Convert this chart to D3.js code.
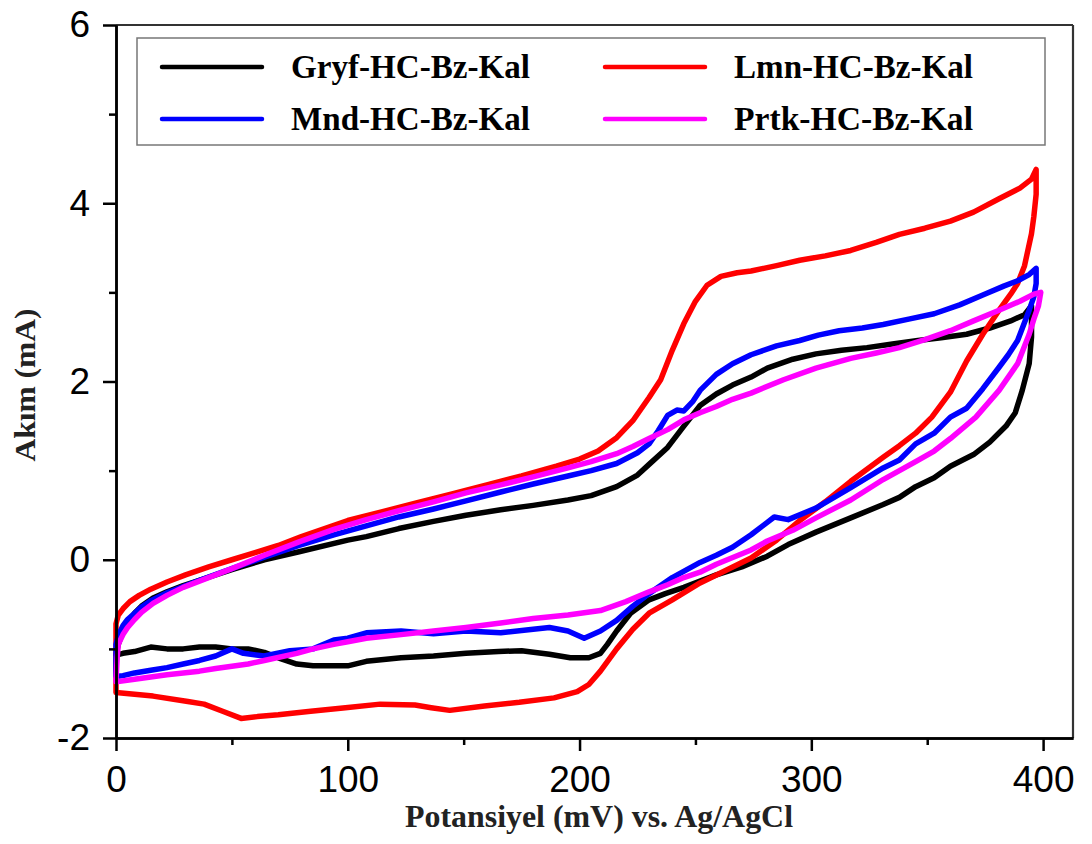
<!DOCTYPE html>
<html>
<head>
<meta charset="utf-8">
<script src="https://cdn.jsdelivr.net/npm/d3@7"></script>
<style>
  html, body { margin: 0; padding: 0; background: #fff; }
  svg { display: block; }
</style>
</head>
<body>
<svg id="chart" width="1092" height="844"></svg>
<script>
// ---------------- DATA ----------------
const seriesNames = ["Gryf-HC-Bz-Kal", "Lmn-HC-Bz-Kal", "Mnd-HC-Bz-Kal", "Prtk-HC-Bz-Kal"];
const seriesColors = ["#000000", "#ff0000", "#0000ff", "#ff00ff"];

const xTickValues = [0, 100, 200, 300, 400];
const xMinorTicks = [50, 150, 250, 350];
const yTickValues = [-2, 0, 2, 4, 6];
const yMinorTicks = [-1, 1, 3, 5];

const xTitle = "Potansiyel (mV) vs. Ag/AgCl";
const yTitle = "Akım (mA)";

// Gryf-HC-Bz-Kal (black) : potential (mV), current (mA)
const gryfV = [0,1,3,5,8,11,16,22,29,36,50,64,79,100,108,122,137,151,166,180,195,205,216,225,230,238,245,252,259,266,274,281,292,302,313,324,335,346,356,367,377,386,392,395,
  395,395,394,391,388,384,377,370,360,353,345,338,331,317,302,290,281,270,259,245,237,230,222,216,212,209,204,196,187,175,165,151,137,123,108,100,94,85,78,70,64,57,50,43,36,29,22,15,8,3,0];
const gryfI = [-1.06,-0.95,-0.8,-0.72,-0.6,-0.52,-0.43,-0.36,-0.29,-0.23,-0.11,0.0,0.09,0.22,0.26,0.35,0.43,0.5,0.56,0.61,0.67,0.72,0.82,0.95,1.07,1.26,1.5,1.73,1.86,1.96,2.05,2.15,2.25,2.31,2.35,2.38,2.42,2.46,2.49,2.53,2.6,2.68,2.75,2.85,
  2.7,2.5,2.2,1.9,1.65,1.5,1.32,1.18,1.05,0.92,0.82,0.7,0.62,0.47,0.31,0.17,0.04,-0.08,-0.17,-0.31,-0.38,-0.45,-0.6,-0.8,-0.95,-1.05,-1.1,-1.1,-1.06,-1.02,-1.03,-1.05,-1.08,-1.1,-1.14,-1.19,-1.19,-1.19,-1.17,-1.1,-1.04,-1.0,-1.0,-0.98,-0.98,-1.0,-1.0,-0.98,-1.03,-1.05,-1.07];

// Lmn-HC-Bz-Kal (red)
const lmnV = [0,1,3,6,10,15,22,30,40,50,60,70,80,90,100,115,130,145,160,175,190,200,208,216,223,230,235,240,245,250,255,261,268,274,285,295,306,317,328,338,349,360,370,381,390,395,397,
  397,396,395,392,389,386,381,374,367,360,352,345,338,331,317,306,295,285,274,263,252,240,230,223,216,209,204,199,189,174,159,144,136,129,114,99,84,70,61,54,46,38,31,16,0,0];
const lmnI = [-0.72,-0.62,-0.55,-0.47,-0.4,-0.33,-0.25,-0.17,-0.08,0.0,0.08,0.16,0.26,0.35,0.44,0.54,0.64,0.74,0.84,0.94,1.05,1.13,1.22,1.37,1.56,1.82,2.02,2.35,2.65,2.9,3.08,3.18,3.22,3.24,3.3,3.36,3.41,3.47,3.56,3.65,3.72,3.8,3.9,4.05,4.17,4.27,4.38,
  4.1,3.85,3.66,3.3,3.1,2.98,2.8,2.53,2.23,1.88,1.6,1.42,1.28,1.15,0.88,0.65,0.44,0.22,0.02,-0.12,-0.26,-0.45,-0.6,-0.78,-1.0,-1.25,-1.4,-1.48,-1.55,-1.6,-1.64,-1.69,-1.66,-1.63,-1.62,-1.66,-1.7,-1.74,-1.76,-1.78,-1.7,-1.62,-1.59,-1.53,-1.49,-0.72];

// Mnd-HC-Bz-Kal (blue)
const mndV = [0,1,3,5,8,11,15,22,29,36,50,64,79,94,108,122,137,151,166,180,195,205,216,225,230,234,238,242,245,249,252,259,266,274,285,295,303,312,322,331,342,353,364,374,383,389,394,397,
  397,396,394,389,385,381,374,367,360,353,345,338,331,317,302,290,284,281,274,266,259,252,240,230,223,216,209,202,195,187,180,166,151,137,123,108,100,94,85,75,64,55,50,43,36,29,22,15,8,3,0,0];
const mndI = [-0.95,-0.85,-0.74,-0.67,-0.6,-0.53,-0.46,-0.37,-0.3,-0.23,-0.1,0.03,0.16,0.28,0.38,0.48,0.57,0.66,0.76,0.85,0.94,1.0,1.08,1.2,1.3,1.45,1.62,1.68,1.67,1.78,1.9,2.08,2.2,2.3,2.4,2.46,2.52,2.57,2.6,2.64,2.7,2.76,2.86,2.97,3.07,3.13,3.2,3.27,
  3.1,2.95,2.8,2.46,2.3,2.16,1.92,1.7,1.6,1.42,1.3,1.12,1.03,0.81,0.58,0.45,0.48,0.42,0.28,0.14,0.05,-0.03,-0.2,-0.38,-0.52,-0.68,-0.8,-0.88,-0.8,-0.76,-0.78,-0.82,-0.8,-0.83,-0.8,-0.82,-0.88,-0.9,-1.0,-1.02,-1.08,-1.05,-1.0,-1.08,-1.13,-1.17,-1.21,-1.24,-1.27,-1.3,-1.31,-0.95];

// Prtk-HC-Bz-Kal (magenta)
const prtkV = [0,0.5,1,3,5,8,11,16,22,29,36,50,64,79,94,108,122,137,151,166,180,195,205,216,223,230,238,245,252,259,266,274,288,302,317,328,338,349,360,370,381,390,396,399,
  398,396,394,389,381,371,360,353,345,331,317,302,292,281,274,259,252,245,238,230,220,209,195,180,166,151,137,123,108,100,94,85,78,64,57,43,36,22,8,0];
const prtkI = [-1.36,-1.1,-0.95,-0.84,-0.76,-0.67,-0.59,-0.49,-0.4,-0.31,-0.24,-0.1,0.05,0.2,0.34,0.45,0.55,0.65,0.75,0.84,0.93,1.03,1.1,1.19,1.27,1.36,1.46,1.57,1.65,1.72,1.8,1.87,2.02,2.15,2.26,2.32,2.38,2.47,2.57,2.68,2.8,2.9,2.98,3.0,
  2.85,2.7,2.53,2.2,1.9,1.6,1.36,1.22,1.1,0.9,0.67,0.47,0.33,0.21,0.11,-0.05,-0.14,-0.2,-0.28,-0.36,-0.47,-0.57,-0.62,-0.66,-0.71,-0.76,-0.8,-0.84,-0.88,-0.92,-0.95,-1.0,-1.05,-1.13,-1.17,-1.22,-1.25,-1.29,-1.34,-1.37];

const seriesV = [gryfV, lmnV, mndV, prtkV];
const seriesI = [gryfI, lmnI, mndI, prtkI];

// ---------------- LAYOUT ----------------
const plot = { left: 116, right: 1073, top: 25, bottom: 738 };
const svg = d3.select("#chart");

const x = d3.scaleLinear().domain([0, 412.9]).range([plot.left, plot.right]);
const y = d3.scaleLinear().domain([-2, 6]).range([plot.bottom, plot.top]);

const tickFont = "'Liberation Sans', Arial, sans-serif";
const titleFont = "'Liberation Serif', 'Times New Roman', serif";

// Curves
const line = d3.line().x(d => x(d[0])).y(d => y(d[1])).curve(d3.curveLinear);
const curvesG = svg.append("g");
seriesNames.forEach((name, k) => {
  const pts = seriesV[k].map((v, j) => [v, seriesI[k][j]]);
  curvesG.append("path")
    .attr("d", line(pts))
    .attr("fill", "none")
    .attr("stroke", seriesColors[k])
    .attr("stroke-width", 5.5)
    .attr("stroke-linejoin", "round")
    .attr("stroke-linecap", "round");
});

// Frame (top & right)
svg.append("line").attr("x1", plot.left).attr("x2", plot.right).attr("y1", plot.top).attr("y2", plot.top)
  .attr("stroke", "#333").attr("stroke-width", 2.2);
svg.append("line").attr("x1", plot.right).attr("x2", plot.right).attr("y1", plot.top).attr("y2", plot.bottom)
  .attr("stroke", "#333").attr("stroke-width", 2.2);

// Axes
function styleAxis(g) {
  g.select(".domain").attr("stroke", "#000").attr("stroke-width", 2.5);
  g.selectAll(".tick line").attr("stroke", "#000").attr("stroke-width", 2.5);
  g.selectAll(".tick text").attr("fill", "#000").attr("font-family", tickFont).attr("font-size", 37);
}
const plainFmt = d => String(d);

const xAxisMinor = svg.append("g").attr("transform", `translate(0,${plot.bottom})`)
  .call(d3.axisBottom(x).tickValues(xMinorTicks).tickSize(7).tickSizeOuter(0).tickFormat(""));
styleAxis(xAxisMinor);
const xAxis = svg.append("g").attr("transform", `translate(0,${plot.bottom})`)
  .call(d3.axisBottom(x).tickValues(xTickValues).tickSize(13).tickSizeOuter(0).tickPadding(15).tickFormat(plainFmt));
styleAxis(xAxis);

const yAxisMinor = svg.append("g").attr("transform", `translate(${plot.left},0)`)
  .call(d3.axisLeft(y).tickValues(yMinorTicks).tickSize(7).tickSizeOuter(0).tickFormat(""));
styleAxis(yAxisMinor);
const yAxis = svg.append("g").attr("transform", `translate(${plot.left},0)`)
  .call(d3.axisLeft(y).tickValues(yTickValues).tickSize(13).tickSizeOuter(0).tickPadding(13).tickFormat(plainFmt));
styleAxis(yAxis);

// Axis titles
svg.append("text")
  .attr("x", 599).attr("y", 827)
  .attr("text-anchor", "middle")
  .attr("font-family", titleFont).attr("font-weight", "bold").attr("font-size", 31)
  .attr("fill", "#222")
  .attr("textLength", 388).attr("lengthAdjust", "spacingAndGlyphs")
  .text(xTitle);

svg.append("text")
  .attr("transform", "translate(35,385) rotate(-90)")
  .attr("text-anchor", "middle")
  .attr("font-family", titleFont).attr("font-weight", "bold").attr("font-size", 30)
  .attr("fill", "#222")
  .attr("textLength", 153).attr("lengthAdjust", "spacingAndGlyphs")
  .text(yTitle);

// Legend
const legend = svg.append("g");
legend.append("rect")
  .attr("x", 137).attr("y", 38).attr("width", 908).attr("height", 107)
  .attr("fill", "#fff").attr("stroke", "#777").attr("stroke-width", 1.5);

const legCols = [162, 605];
const legRows = [67, 119];
const legendOrder = [0, 1, 2, 3]; // row-major: Gryf, Lmn / Mnd, Prtk
legendOrder.forEach((k, idx) => {
  const cx = legCols[idx % 2];
  const cy = legRows[Math.floor(idx / 2)];
  legend.append("line")
    .attr("x1", cx).attr("x2", cx + 100).attr("y1", cy).attr("y2", cy)
    .attr("stroke", seriesColors[k]).attr("stroke-width", 4.5).attr("stroke-linecap", "round");
  legend.append("text")
    .attr("x", cx + 129).attr("y", cy + 11)
    .attr("font-family", titleFont).attr("font-weight", "bold").attr("font-size", 33)
    .attr("fill", "#000")
    .attr("textLength", 239).attr("lengthAdjust", "spacingAndGlyphs")
    .text(seriesNames[k]);
});
</script>
</body>
</html>
